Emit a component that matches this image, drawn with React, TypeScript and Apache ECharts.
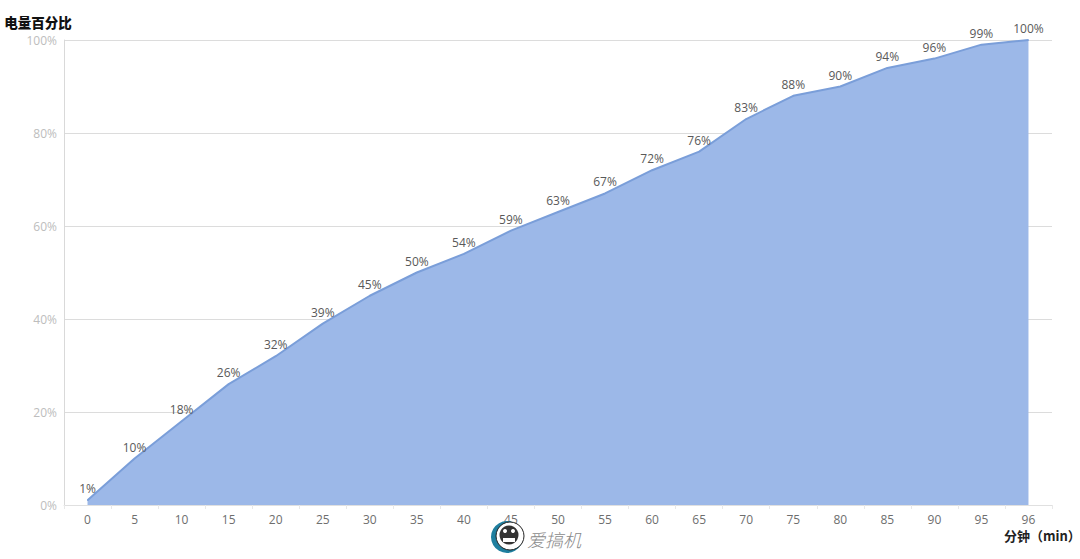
import React, { useEffect, useRef } from "react";
import * as echarts from "echarts";

const minutes = ["0","5","10","15","20","25","30","35","40","45","50","55","60","65","70","75","80","85","90","95","96"];
const percent = [1,10,18,26,32,39,45,50,54,59,63,67,72,76,83,88,90,94,96,99,100];
const yName = "电量百分比";
const xName = "分钟（min）";
const brand = "爱搞机";

export default function App() {
  const ref = useRef<HTMLDivElement>(null);
  useEffect(() => {
    const chart = echarts.init(ref.current!, undefined, { renderer: "svg" });
    chart.setOption({
      animation: false,
      backgroundColor: "#ffffff",
      grid: { left: 64, right: 28, top: 40, bottom: 54, outerBoundsMode: "none" },
      xAxis: {
        type: "category",
        data: minutes,
        boundaryGap: true,
        axisLine: { lineStyle: { color: "#e0e0e0" } },
        axisTick: { show: true, alignWithLabel: false, length: 4, lineStyle: { color: "#e8e8e8" } },
        axisLabel: { color: "#6e6e6e", fontSize: 12, margin: 8, fontFamily: "'Open Sans', sans-serif", interval: 0 },
      },
      yAxis: {
        type: "value",
        min: 0,
        max: 100,
        interval: 20,
        name: yName,
        nameLocation: "end",
        nameGap: 11,
        nameMoveOverlap: false,
        nameTextStyle: { fontFamily: "'Noto Sans CJK SC'", fontWeight: 900, fontSize: 13.5, color: "#111", padding: [0, 52, 0, 0] },
        axisLine: { show: true, lineStyle: { color: "#d9d9d9" } },
        axisTick: { show: false },
        axisLabel: { color: "#bdbdbd", fontSize: 12, margin: 7, formatter: "{value}%", fontFamily: "'Open Sans', sans-serif" },
        splitLine: { lineStyle: { color: "#dcdcdc", width: 1 } },
      },
      series: [
        {
          type: "line",
          data: percent,
          symbol: "circle",
          symbolSize: 1,
          showSymbol: true,
          showAllSymbol: true,
          smooth: false,
          z: 3,
          itemStyle: { color: "#7a9ed9" },
          lineStyle: { color: "#7a9ed9", width: 2 },
          areaStyle: { color: "#9cb8e8", opacity: 1 },
          label: {
            show: true,
            position: "top",
            distance: 5,
            color: "#595959",
            fontSize: 12,
            fontFamily: "'Open Sans', sans-serif",
            formatter: "{c}%",
            textBorderWidth: 0,
            textBorderColor: "transparent",
          },
        },
      ],
      graphic: [
        { type: "circle", z: 10, shape: { cx: 507, cy: 537, r: 16 }, style: { fill: "#1f7f9f" } },
        { type: "circle", z: 11, shape: { cx: 510, cy: 536, r: 14 }, style: { fill: "#ffffff", stroke: "#222", lineWidth: 1 } },
        { type: "circle", z: 12, shape: { cx: 509, cy: 535, r: 9.5 }, style: { fill: "#333333" } },
        { type: "rect", z: 13, shape: { x: 503, y: 538, width: 12, height: 4 }, style: { fill: "#ffffff" } },
        { type: "circle", z: 13, shape: { cx: 505, cy: 531, r: 2 }, style: { fill: "#ffffff" } },
        { type: "circle", z: 13, shape: { cx: 513, cy: 531, r: 2 }, style: { fill: "#ffffff" } },
        {
          type: "text",
          z: 12,
          x: 527,
          y: 530,
          style: { text: brand, fontSize: 18, fontStyle: "italic", fontWeight: 300, fontFamily: "'Noto Sans CJK SC'", fill: "#8a8a8a" },
        },
        {
          type: "text",
          z: 12,
          x: 1004,
          y: 529,
          style: { text: xName, fontSize: 13, fontWeight: "bold", fontFamily: "'Noto Sans CJK SC'", fill: "#222222" },
        },
      ],
    });
    return () => chart.dispose();
  }, []);
  return <div ref={ref} style={{ position: "absolute", left: 0, top: 0, width: 1080, height: 559 }} />;
}
